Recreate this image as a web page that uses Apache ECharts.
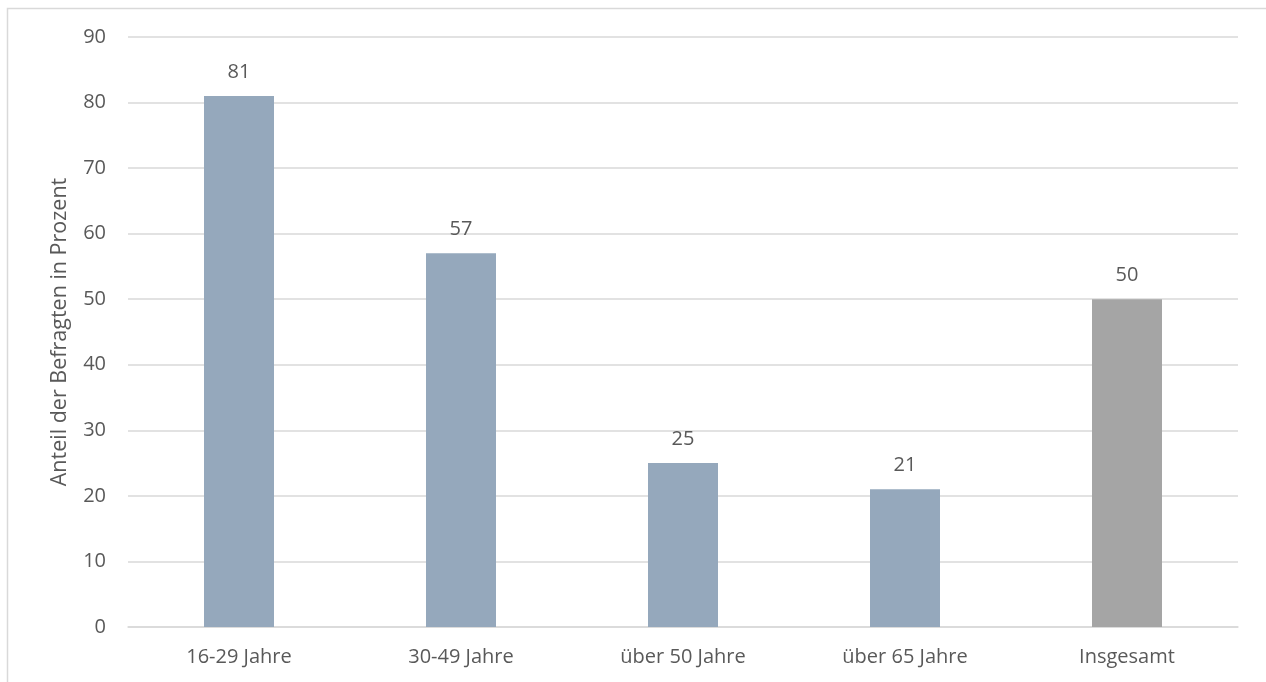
<!DOCTYPE html>
<html>
<head>
<meta charset="utf-8">
<script src="https://cdn.jsdelivr.net/npm/echarts@6/dist/echarts.min.js"></script>
<style>
  html, body { margin: 0; padding: 0; background: #fff; }
  #chart { width: 1266px; height: 682px; }
</style>
</head>
<body>
<div id="chart"></div>
<script>
// Altersgruppen und Anteile (Prozent)
const categories = ['16-29 Jahre', '30-49 Jahre', 'über 50 Jahre', 'über 65 Jahre', 'Insgesamt'];
const values = [81, 57, 25, 21, 50];
const barColors = ['#95A8BC', '#95A8BC', '#95A8BC', '#95A8BC', '#A5A5A5'];

const textColor = '#595959';
const fontFamily = '"Open Sans", "Noto Sans", sans-serif';

const chart = echarts.init(document.getElementById('chart'));
chart.setOption({
  animation: false,
  textStyle: { fontFamily: fontFamily, color: textColor },
  graphic: [{
    type: 'rect',
    shape: { x: 7.5, y: 8.5, width: 1300, height: 700 },
    style: { fill: 'none', stroke: '#D9D9D9', lineWidth: 1.5 },
    silent: true
  }],
  grid: { left: 128, right: 28, top: 37, bottom: 55 },
  xAxis: {
    type: 'category',
    data: categories,
    axisLine: { show: true, lineStyle: { color: '#D9D9D9', width: 1.5 } },
    axisTick: { show: false },
    axisLabel: { color: textColor, fontSize: 20, margin: 20, fontFamily: fontFamily }
  },
  yAxis: {
    type: 'value',
    min: 0,
    max: 90,
    interval: 10,
    name: 'Anteil der Befragten in Prozent',
    nameLocation: 'middle',
    nameGap: 57,
    nameRotate: 90,
    nameTextStyle: { color: textColor, fontSize: 21.5, fontFamily: fontFamily },
    axisLine: { show: false },
    axisTick: { show: false },
    axisLabel: { color: textColor, fontSize: 20, margin: 22, fontFamily: fontFamily },
    splitLine: { lineStyle: { color: '#D9D9D9', width: 1.5 } }
  },
  series: [{
    type: 'bar',
    data: values.map((v, i) => ({ value: v, itemStyle: { color: barColors[i] } })),
    barWidth: 70,
    label: {
      show: true,
      position: 'top',
      distance: 14,
      color: textColor,
      fontSize: 20,
      fontFamily: fontFamily
    }
  }]
});
</script>
</body>
</html>
